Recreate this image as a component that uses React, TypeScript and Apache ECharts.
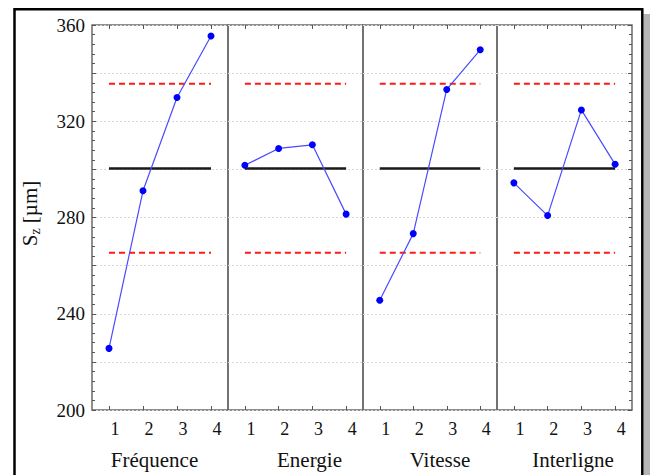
import React, { useEffect, useRef } from "react";
import * as echarts from "echarts";

const panels = ["Fréquence", "Energie", "Vitesse", "Interligne"];
const levels = ["1", "2", "3", "4"];
const frequence = [225.6, 291.1, 329.9, 355.4];
const energie = [301.7, 308.7, 310.2, 281.4];
const vitesse = [245.6, 273.3, 333.2, 349.7];
const interligne = [294.4, 280.8, 324.7, 302.1];
const seriesValues = [frequence, energie, vitesse, interligne];
const meanValue = 300.4;
const upperLimit = 335.6;
const lowerLimit = 265.3;
const yMin = 200;
const yMax = 360;

const gridLefts = [92, 228, 363, 497];
const gridWidths = [136, 135, 134, 135];
const namePads = [
  [0, 11, 0, 0],
  [0, 0, 0, 28],
  [0, 0, 0, 20],
  [0, 0, 0, 17],
];

export default function App() {
  const ref = useRef<HTMLDivElement>(null);
  useEffect(() => {
    if (!ref.current) return;
    const chart = echarts.init(ref.current, null, { renderer: "svg" });
    const font = "'Liberation Serif', 'Times New Roman', serif";
    const grids: any[] = [];
    const xAxes: any[] = [];
    const yAxes: any[] = [];
    const series: any[] = [];
    panels.forEach((name, i) => {
      grids.push({
        left: gridLefts[i],
        width: gridWidths[i],
        top: 25,
        height: 388,
        show: true,
        borderColor: "#6a6a6a",
        borderWidth: 1.5,
        backgroundColor: "transparent",
      });
      xAxes.push({
        type: "category",
        data: levels,
        gridIndex: i,
        position: "bottom",
        boundaryGap: true,
        axisLine: { show: false },
        axisTick: { show: true, inside: true, alignWithLabel: true, length: 4, lineStyle: { color: "#555" } },
        axisLabel: { color: "#111", fontFamily: font, fontSize: 18, margin: 10, padding: [0, 0, 0, 12] },
        name,
        nameLocation: "middle",
        nameGap: 39,
        nameTextStyle: { color: "#111", fontFamily: font, fontSize: 21, padding: namePads[i] },
        splitLine: { show: false },
      });
      xAxes.push({
        type: "category",
        data: levels,
        gridIndex: i,
        position: "top",
        boundaryGap: true,
        axisLine: { show: false },
        axisTick: { show: true, inside: true, alignWithLabel: true, length: 4, lineStyle: { color: "#555" } },
        axisLabel: { show: false },
        splitLine: { show: false },
      });
      const isFirst = i === 0;
      const isLast = i === panels.length - 1;
      yAxes.push({
        type: "value",
        gridIndex: i,
        min: yMin,
        max: yMax,
        interval: 20,
        position: isLast ? "right" : "left",
        axisLine: { show: false },
        axisTick: { show: isFirst || isLast, inside: true, length: 4, lineStyle: { color: "#555" } },
        minorTick: { show: isFirst || isLast, splitNumber: 5, length: 3, lineStyle: { color: "#555" } },
        axisLabel: {
          show: isFirst,
          color: "#111",
          fontFamily: font,
          fontSize: 19,
          margin: 7,
          formatter: (v: number) => (v % 40 === 0 ? String(v) : ""),
        },
        splitLine: { show: true, lineStyle: { color: "#d8d8d8", type: [2, 2], width: 1 } },
        name: isFirst ? "{a|S}{b|z}{a| [µm]}" : "",
        nameLocation: "middle",
        nameGap: 50,
        nameRotate: 90,
        nameTextStyle: {
          color: "#111",
          fontFamily: font,
          padding: [0, 0, 0, 8],
          rich: {
            a: { fontFamily: font, fontSize: 21, color: "#111", verticalAlign: "middle" },
            b: { fontFamily: font, fontSize: 14, color: "#111", verticalAlign: "bottom", padding: [10, 0, 0, 0] },
          },
        },
      });
      series.push({
        type: "line",
        xAxisIndex: i * 2,
        yAxisIndex: i,
        data: levels.map(() => upperLimit),
        symbol: "none",
        lineStyle: { color: "#ff1a1a", width: 2, type: [6, 4] },
        z: 2,
      });
      series.push({
        type: "line",
        xAxisIndex: i * 2,
        yAxisIndex: i,
        data: levels.map(() => lowerLimit),
        symbol: "none",
        lineStyle: { color: "#ff1a1a", width: 2, type: [6, 4] },
        z: 2,
      });
      series.push({
        type: "line",
        xAxisIndex: i * 2,
        yAxisIndex: i,
        data: levels.map(() => meanValue),
        symbol: "none",
        lineStyle: { color: "#1a1a1a", width: 2.5 },
        z: 3,
      });
      series.push({
        type: "line",
        xAxisIndex: i * 2,
        yAxisIndex: i,
        data: seriesValues[i],
        symbol: "circle",
        symbolSize: 7,
        itemStyle: { color: "#0000ff" },
        lineStyle: { color: "#4a4aff", width: 1.2 },
        z: 4,
      });
    });
    chart.setOption({
      animation: false,
      backgroundColor: "#ffffff",
      textStyle: { fontFamily: font },
      grid: grids,
      xAxis: xAxes,
      yAxis: yAxes,
      series,
      graphic: [
        {
          type: "rect",
          shape: { x: 643.5, y: 14, width: 7, height: 470 },
          style: { fill: "#b4b4b4" },
          silent: true,
        },
        {
          type: "rect",
          shape: { x: 14.5, y: 9.3, width: 627.8, height: 480 },
          style: { fill: "none", stroke: "#000", lineWidth: 2.5 },
          silent: true,
        },
      ],
    });
    return () => chart.dispose();
  }, []);
  return (
    <div style={{ position: "fixed", left: 0, top: 0, width: 650, height: 475, background: "#fff" }}>
      <div ref={ref} style={{ width: 650, height: 475 }} />
    </div>
  );
}
